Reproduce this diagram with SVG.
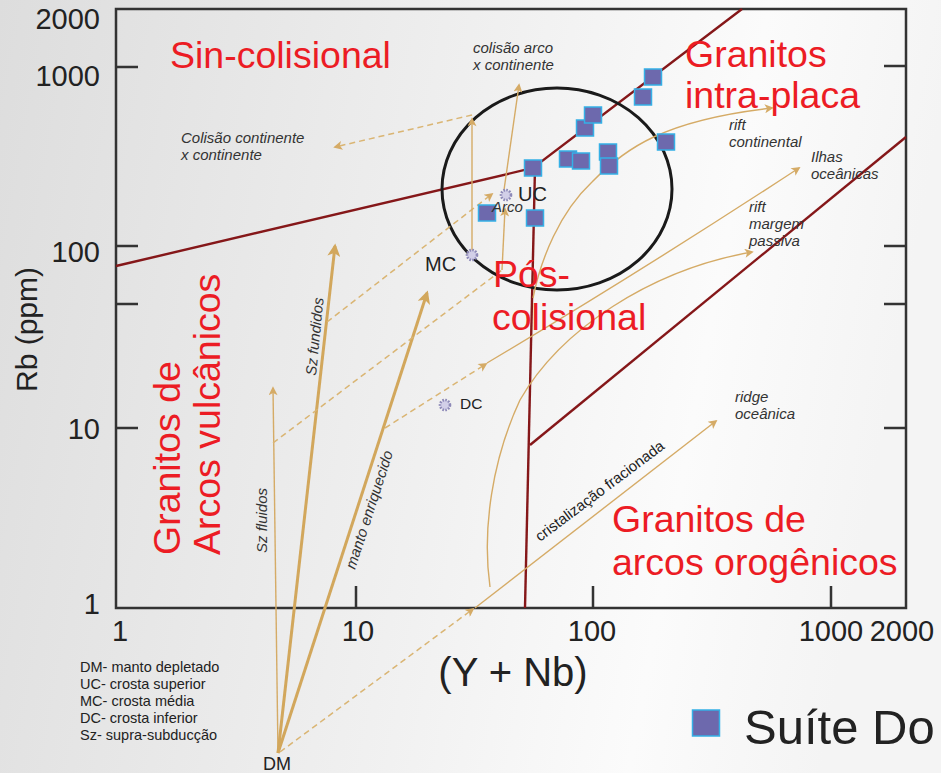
<svg xmlns="http://www.w3.org/2000/svg" width="941" height="773" viewBox="0 0 941 773">
<defs>
<linearGradient id="bg" x1="0" y1="0" x2="1" y2="0.15">
<stop offset="0" stop-color="#dddddd"/>
<stop offset="0.55" stop-color="#f1f1f1"/>
<stop offset="0.8" stop-color="#fbfbfb"/>
<stop offset="1" stop-color="#f4f4f4"/>
</linearGradient>
<marker id="ahBig" viewBox="0 0 10 10" refX="8" refY="5" markerWidth="14" markerHeight="13" orient="auto" markerUnits="userSpaceOnUse">
<path d="M0,0 L10,5 L0,10 L2.5,5 z" fill="#d2a75c"/>
</marker>
<marker id="ah" viewBox="0 0 10 10" refX="8" refY="5" markerWidth="11" markerHeight="9" orient="auto" markerUnits="userSpaceOnUse">
<path d="M0,0 L10,5 L0,10 L2.5,5 z" fill="#d5ab66"/>
</marker>
<style>
.frame{fill:none;stroke:#333;stroke-width:2.5}
.tick{stroke:#333;stroke-width:2.5}
.bound{fill:none;stroke:#851719;stroke-width:2.4}
.thick{fill:none;stroke:#d2a75c;stroke-width:3}
.thin{fill:none;stroke:#d5ab66;stroke-width:1.4}
.dash{fill:none;stroke:#dab573;stroke-width:1.5;stroke-dasharray:6 4}
.pt{fill:#6d69ad;stroke:#35b0e6;stroke-width:1.5}
.star{fill:#d2cfe8;stroke:#8e8ab8;stroke-width:2.6;stroke-dasharray:1.6 1.3}
.ax{font-family:"Liberation Sans",Arial,sans-serif;font-size:29px;fill:#222}
.red{font-family:"Liberation Sans",Arial,sans-serif;font-size:37.5px;fill:#ec1c24}
.ann{font-family:"Liberation Sans",Arial,sans-serif;font-size:15px;font-style:italic;fill:#333}
.lab{font-family:"Liberation Sans",Arial,sans-serif;fill:#222}
.leg{font-family:"Liberation Sans",Arial,sans-serif;font-size:14.5px;fill:#222}
</style>
</defs>
<rect x="0" y="0" width="941" height="773" fill="url(#bg)"/>

<g id="axes">
<rect class="frame" x="116" y="9" width="790" height="599"/>
<path class="tick" d="M116,67H138M116,246H138M116,304H138M116,428H138M884,66H906M884,246H906M884,304H906M884,428H906M356,608V586M593,608V586M831,608V586"/>
<g class="ax" text-anchor="end">
<text x="100" y="29">2000</text>
<text x="100" y="86">1000</text>
<text x="100" y="262">100</text>
<text x="100" y="439">10</text>
<text x="100" y="614">1</text>
</g>
<g class="ax" text-anchor="middle">
<text x="120" y="641">1</text>
<text x="358" y="641">10</text>
<text x="592" y="641">100</text>
<text x="831" y="641">1000</text>
<text x="902" y="641">2000</text>
</g>
<text class="lab" font-size="30" transform="translate(37,392) rotate(-90)">Rb (ppm)</text>
<text class="lab" font-size="40" x="513" y="686" text-anchor="middle">(Y + Nb)</text>
</g>

<g id="boundaries">
<path class="bound" d="M116,266 L533,168 L742,9"/>
<path class="bound" d="M535,168 L525,608"/>
<path class="bound" d="M530,445 L906,137"/>
<ellipse cx="557" cy="189" rx="115" ry="101" fill="none" stroke="#1a1a1a" stroke-width="3"/>
</g>

<g id="connectors">
<path class="thin" d="M278,753 L273,388" marker-end="url(#ah)"/>
<path class="thick" d="M278,753 L335,246" marker-end="url(#ahBig)"/>
<path class="thick" d="M278,753 L427,293" marker-end="url(#ahBig)"/>
<path class="dash" d="M280,752 L473,609" marker-end="url(#ah)"/>
<path class="thin" d="M475,608 L716,421" marker-end="url(#ah)"/>
<path class="dash" d="M327,322 L492,194" marker-end="url(#ah)"/>
<path class="dash" d="M273,443 L502,270"/>
<path class="thin" d="M502,270 L505,209" marker-end="url(#ah)"/>
<path class="dash" d="M385,428 L486,364" marker-end="url(#ah)"/>
<path class="thin" d="M487,363 Q640,272 799,168" marker-end="url(#ah)"/>
<path class="thin" d="M490,587 C482,530 492,460 520,400 C560,330 650,270 752,252" marker-end="url(#ah)"/>
<path class="thin" d="M533,298 C541,258 560,212 592,182 C625,148 665,120 772,108" marker-end="url(#ah)"/>
<path class="thin" d="M472,255 L472,119" marker-end="url(#ah)"/>
<path class="dash" d="M472,115 L335,147" marker-end="url(#ah)"/>
<path class="thin" d="M504,190 L519,85" marker-end="url(#ah)"/>
</g>

<g id="points">
<rect class="pt" x="576.5" y="120" width="17" height="16"/>
<rect class="pt" x="584.5" y="107" width="17" height="16"/>
<rect class="pt" x="559.5" y="151" width="17" height="16"/>
<rect class="pt" x="572.5" y="153" width="17" height="16"/>
<rect class="pt" x="599.5" y="144" width="17" height="16"/>
<rect class="pt" x="600.5" y="158" width="17" height="16"/>
<rect class="pt" x="524.5" y="160" width="17" height="16"/>
<rect class="pt" x="478.5" y="205" width="17" height="16"/>
<rect class="pt" x="526.5" y="210" width="17" height="16"/>
<rect class="pt" x="644.5" y="69" width="17" height="16"/>
<rect class="pt" x="634.5" y="89" width="17" height="16"/>
<rect class="pt" x="657.5" y="134" width="17" height="16"/>
</g>

<g id="reservoirs">
<circle class="star" cx="506" cy="195" r="5"/>
<circle class="star" cx="472" cy="255" r="5"/>
<circle class="star" cx="445" cy="405" r="5"/>
<text class="lab" font-size="20" x="518" y="201">UC</text>
<text class="lab" font-size="20" x="425" y="271">MC</text>
<text class="lab" font-size="15.5" x="460" y="409">DC</text>
<text class="lab" font-size="18" x="263" y="770">DM</text>
<text class="ann" x="492" y="212">Arco</text>
</g>

<g id="annotations">
<text class="ann" x="181" y="143">Colisão continente</text>
<text class="ann" x="181" y="160">x continente</text>
<text class="ann" x="473" y="53">colisão arco</text>
<text class="ann" x="473" y="70">x continente</text>
<text class="ann" x="729" y="130">rift</text>
<text class="ann" x="729" y="147">continental</text>
<text class="ann" x="811" y="162">Ilhas</text>
<text class="ann" x="811" y="179">oceânicas</text>
<text class="ann" x="749" y="212">rift</text>
<text class="ann" x="749" y="229">margem</text>
<text class="ann" x="749" y="246">passiva</text>
<text class="ann" x="735" y="402">ridge</text>
<text class="ann" x="735" y="419">oceânica</text>
<text class="ann" transform="translate(267,553) rotate(-90)">Sz fluidos</text>
<text class="ann" transform="translate(316,376) rotate(-84.4)">Sz fundidos</text>
<text class="ann" transform="translate(355,570) rotate(-72)">manto enriquecido</text>
<text class="lab" font-size="15" transform="translate(540,542) rotate(-36.8)">cristalização fracionada</text>
</g>

<g id="fields">
<text class="red" x="170" y="68">Sin-colisional</text>
<text class="red" x="685" y="67">Granitos</text>
<text class="red" x="685" y="108">intra-placa</text>
<text class="red" x="493" y="287">Pós-</text>
<text class="red" x="492" y="330">colisional</text>
<text class="red" x="612" y="532">Granitos de</text>
<text class="red" x="612" y="575">arcos orogênicos</text>
<text class="red" transform="translate(180,555) rotate(-90)">Granitos de</text>
<text class="red" transform="translate(220,555) rotate(-90)">Arcos vulcânicos</text>
</g>

<g id="legend">
<text class="leg" x="80" y="672">DM- manto depletado</text>
<text class="leg" x="80" y="689">UC- crosta superior</text>
<text class="leg" x="80" y="706">MC- crosta média</text>
<text class="leg" x="80" y="723">DC- crosta inferior</text>
<text class="leg" x="80" y="740">Sz- supra-subducção</text>
<rect x="692.5" y="710" width="27" height="26" fill="#6d69ad" stroke="#35b0e6" stroke-width="1.5"/>
<text class="lab" font-size="49" x="744" y="744">Suíte Do</text>
</g>
</svg>
